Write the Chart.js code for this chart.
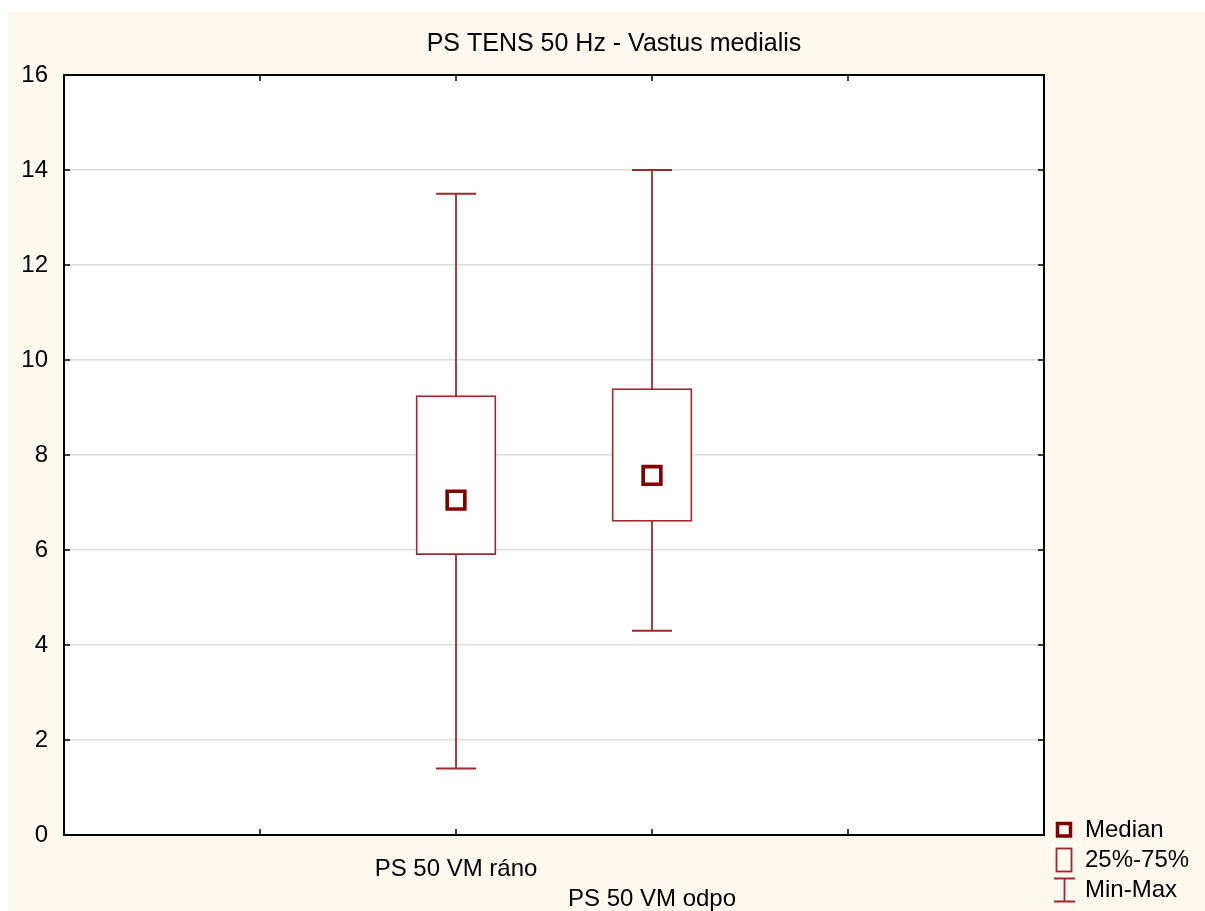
<!DOCTYPE html>
<html>
<head>
<meta charset="utf-8">
<script src="https://cdn.jsdelivr.net/npm/chart.js@4.4.1/dist/chart.umd.min.js"></script>
<style>
  html, body { margin: 0; padding: 0; background: #ffffff; }
  #wrap { position: absolute; left: 8px; top: 12px; width: 1197px; height: 899px; background: #fdf9ee; }
</style>
</head>
<body>
<div id="wrap"><canvas id="chart"></canvas></div>
<script>
// values
const categories = ['PS 50 VM ráno', 'PS 50 VM odpo'];
const xSlots = [2, 3];
const minVals = [1.4, 4.3];
const q1Vals = [5.9, 6.6];
const medianVals = [7.05, 7.57];
const q3Vals = [9.25, 9.4];
const maxVals = [13.5, 14.0];
const yTicks = [0, 2, 4, 6, 8, 10, 12, 14, 16];

const RED = '#a0282e';
const DARK = '#800000';
const FONT = '"Liberation Sans", Arial, sans-serif';

const whiskers = categories.map((c, i) => ({
    type: 'line',
    data: [{x: xSlots[i], y: minVals[i]}, {x: xSlots[i], y: maxVals[i]}],
    borderColor: RED,
    borderWidth: 1.8,
    pointRadius: 0,
    order: 3
}));

const caps = {
    type: 'scatter',
    data: categories.flatMap((c, i) => [{x: xSlots[i], y: minVals[i]}, {x: xSlots[i], y: maxVals[i]}]),
    pointStyle: 'line',
    pointRadius: 20,
    borderColor: RED,
    borderWidth: 1.8,
    order: 3
};

const boxes = {
    type: 'bar',
    data: categories.map((c, i) => ({x: xSlots[i], y: [q1Vals[i], q3Vals[i]]})),
    backgroundColor: '#ffffff',
    borderColor: RED,
    borderWidth: 1.8,
    borderSkipped: false,
    barThickness: 80,
    order: 2
};

const medians = {
    type: 'scatter',
    data: categories.map((c, i) => ({x: xSlots[i], y: medianVals[i]})),
    pointStyle: 'rect',
    pointRadius: 12.5,
    borderColor: DARK,
    backgroundColor: 'rgba(255,255,255,0)',
    borderWidth: 3.6,
    order: 1
};

const frame = {
    id: 'frame',
    beforeDraw(chart) {
        const {ctx, chartArea: a} = chart;
        ctx.save();
        ctx.fillStyle = '#ffffff';
        ctx.fillRect(a.left, a.top, a.right - a.left, a.bottom - a.top);
        ctx.restore();
    },
    afterDraw(chart) {
        const {ctx, chartArea: a, scales} = chart;
        ctx.save();
        ctx.strokeStyle = '#000';
        ctx.lineWidth = 1.5;
        ctx.beginPath();
        scales.x.ticks.forEach(t => {
            if (t.value <= scales.x.min || t.value >= scales.x.max) return;
            const px = scales.x.getPixelForValue(t.value);
            ctx.moveTo(px, a.bottom); ctx.lineTo(px, a.bottom - 6);
            ctx.moveTo(px, a.top); ctx.lineTo(px, a.top + 6);
        });
        scales.y.ticks.forEach(t => {
            if (t.value <= scales.y.min || t.value >= scales.y.max) return;
            const py = scales.y.getPixelForValue(t.value);
            ctx.moveTo(a.left, py); ctx.lineTo(a.left + 6, py);
            ctx.moveTo(a.right, py); ctx.lineTo(a.right - 6, py);
        });
        ctx.stroke();
        ctx.lineWidth = 2;
        ctx.strokeRect(a.left, a.top, a.right - a.left, a.bottom - a.top);

        // title
        ctx.fillStyle = '#000';
        ctx.font = '25px ' + FONT;
        ctx.textAlign = 'center';
        ctx.textBaseline = 'middle';
        ctx.fillText('PS TENS 50 Hz - Vastus medialis', 606, 32);

        // legend
        ctx.font = '24px ' + FONT;
        ctx.textAlign = 'left';
        ctx.fillText('Median', 1077, 818);
        ctx.fillText('25%-75%', 1077, 848);
        ctx.fillText('Min-Max', 1077, 878);
        ctx.strokeStyle = DARK;
        ctx.lineWidth = 3.5;
        ctx.strokeRect(1049.5, 811.5, 13, 12.5);
        ctx.strokeStyle = RED;
        ctx.lineWidth = 1.8;
        ctx.strokeRect(1048.5, 836.5, 15, 23);
        ctx.beginPath();
        ctx.moveTo(1046, 866.5); ctx.lineTo(1067, 866.5);
        ctx.moveTo(1056.5, 866.5); ctx.lineTo(1056.5, 889.5);
        ctx.moveTo(1046, 889.5); ctx.lineTo(1067, 889.5);
        ctx.stroke();
        ctx.restore();
    }
};

new Chart(document.getElementById('chart'), {
    type: 'bar',
    data: {
        datasets: [...whiskers, caps, boxes, medians]
    },
    options: {
        responsive: true,
        maintainAspectRatio: false,
        animation: false,
        layout: { padding: { top: 63, right: 161, left: 0, bottom: 0 } },
        plugins: {
            legend: { display: false },
            tooltip: { enabled: false },
            title: { display: false }
        },
        scales: {
            x: {
                type: 'linear',
                min: 0,
                max: 5,
                offset: false,
                grid: { display: false, offset: false },
                border: { display: true, color: '#000', width: 2 },
                ticks: {
                    stepSize: 1,
                    maxRotation: 0,
                    autoSkip: false,
                    padding: 11,
                    color: '#000',
                    font: { family: FONT, size: 24, lineHeight: 1.25 },
                    callback: v => {
                        const i = xSlots.indexOf(v);
                        if (i < 0) return '';
                        return i % 2 === 0 ? categories[i] : ['', categories[i]];
                    }
                },
                afterFit: s => { s.height = 76; }
            },
            y: {
                min: 0,
                max: 16,
                grid: { color: '#dcdcdc', lineWidth: 1.5, drawTicks: false },
                border: { display: true, color: '#000', width: 2 },
                ticks: {
                    stepSize: 2,
                    padding: 16,
                    color: '#000',
                    font: { family: FONT, size: 24 },
                    callback: v => yTicks.includes(v) ? String(v) : ''
                },
                afterFit: s => { s.width = 56; }
            }
        }
    },
    plugins: [frame]
});
</script>
</body>
</html>
